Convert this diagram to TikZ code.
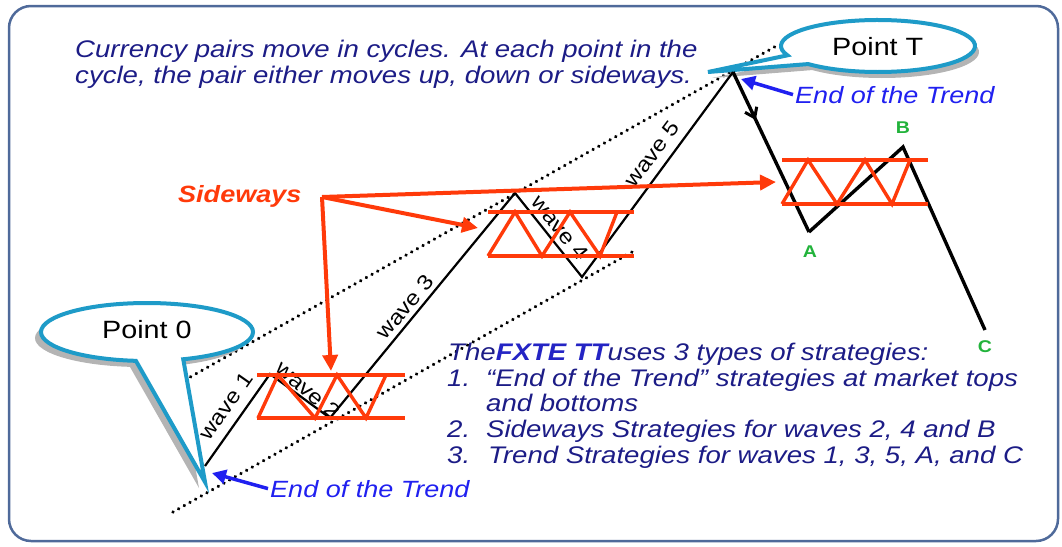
\documentclass[tikz,border=0pt]{standalone}
\usepackage{fontspec}
\setmainfont{Liberation Sans}[FakeStretch=1.15]
\usetikzlibrary{arrows.meta,decorations.markings}
\definecolor{navyc}{HTML}{1C1C86}
\definecolor{fxc}{HTML}{2424C4}
\definecolor{bluec}{HTML}{2020F0}
\definecolor{redc}{HTML}{FF3A0A}
\definecolor{greenc}{HTML}{22B33B}
\definecolor{callc}{HTML}{1E9BC8}
\definecolor{shadc}{HTML}{B4B4B4}
\definecolor{bordc}{HTML}{4F6A9A}
\begin{document}
\begin{tikzpicture}[x=1pt,y=-1pt,
  navytxt/.style={inner sep=0,text=navyc,font=\fontsize{24}{28}\selectfont\itshape},
  endtxt/.style={inner sep=0,text=bluec,font=\fontsize{23.5}{28}\selectfont\itshape},
  sidetxt/.style={inner sep=0,text=redc,font=\fontsize{23.5}{28}\selectfont\bfseries\itshape},
  pointtxt/.style={inner sep=0,text=black,font=\fontsize{25}{30}\selectfont},
  wavetxt/.style={inner sep=0,text=black,font=\fontsize{21}{24}\selectfont},
  abctxt/.style={inner sep=0,text=greenc,font=\fontsize{17}{20}\selectfont\bfseries},
  wavel/.style={draw=black,line width=2.2pt,line join=miter},
  trendl/.style={draw=black,line width=3.4pt,line join=miter},
  dotl/.style={draw=black,line width=3.6pt,dash pattern=on 0.01pt off 6.5pt,line cap=round},
  redl/.style={draw=redc,line width=3.4pt,line join=miter},
  redarr/.style={draw=redc,line width=4pt,-{Triangle[length=16pt,width=15pt]}},
  bluearr/.style={draw=bluec,line width=3.5pt,-{Triangle[length=14pt,width=14pt]}},
  callout/.style={draw=callc,line width=4pt,fill=white,line join=miter},
  midarrow/.style={postaction={decorate},decoration={markings,mark=at position #1 with {\arrow{Straight Barb[length=9pt,width=13pt,line width=3pt]}}}}
]
\useasboundingbox (0,0) rectangle (1062,546);
% frame
\draw[bordc,line width=2.5pt,rounded corners=22pt] (9,6) rectangle (1058,541);

% channel lines
\coordinate (u1) at (185,380);
\coordinate (u2) at (778,45);
\coordinate (l1) at (173,512);
\coordinate (l2) at (632,252);
\draw[dotl] (u1) -- (u2);
\draw[dotl] (l1) -- (l2);

% callouts
\fill[shadc,shift={(4,6)}] (878,46) ++(159:97 and 26) arc[start angle=159,end angle=496,x radius=97,y radius=26] -- (708,72) -- cycle;
\draw[callout] (878,46) ++(159:97 and 26) arc[start angle=159,end angle=496,x radius=97,y radius=26] -- (708,72) -- cycle;
\fill[shadc,shift={(-6,6)}] (147,332) ++(96:106 and 29) arc[start angle=96,end angle=430,x radius=106,y radius=29] -- (205,482) -- cycle;
\draw[callout] (147,332) ++(96:106 and 29) arc[start angle=96,end angle=430,x radius=106,y radius=29] -- (205,482) -- cycle;
\node[pointtxt,anchor=base west] (pT) at (832,55) {Point T};
\node[pointtxt,anchor=base west] (p0) at (102,338) {Point 0};

% price path
\coordinate (O) at (205,466);
\coordinate (W1) at (270,374);
\coordinate (W2) at (330,418);
\coordinate (W3) at (515,193);
\coordinate (W4) at (582,277);
\coordinate (T) at (733,72);
\coordinate (A) at (809,232);
\coordinate (B) at (903,147);
\coordinate (C) at (985,330);
\draw[wavel] (O) -- (W1) -- (W2) -- (W3) -- (W4) -- (T);
\draw[trendl,midarrow=0.3] (T) -- (A);
\draw[trendl] (A) -- (B) -- (C);

% wave labels
\node[wavetxt,rotate=55] (w1) at (226,406) {wave 1};
\node[wavetxt,rotate=-40] (w2) at (308,390) {wave 2};
\node[wavetxt,rotate=50] (w3) at (405,307) {wave 3};
\node[wavetxt,rotate=-51] (w4) at (560,228) {wave 4};
\node[wavetxt,rotate=53] (w5) at (652,154) {wave 5};

% sideways boxes
\draw[redl] (257,375) -- (405,375);
\draw[redl] (257,418) -- (405,418);
\draw[redl] (258,418) -- (278,375) -- (315,418) -- (337,375) -- (366,418) -- (386,375);
\draw[redl] (488,212) -- (634,212);
\draw[redl] (488,256) -- (634,256);
\draw[redl] (488,256) -- (515,212) -- (542,256) -- (570,212) -- (600,256) -- (617,212);
\draw[redl] (782,160) -- (928,160);
\draw[redl] (782,204) -- (928,204);
\draw[redl] (782,204) -- (808,160) -- (837,204) -- (865,160) -- (892,204) -- (910,160);

% sideways arrows
\node[sidetxt,anchor=base west] (sw) at (178,202) {Sideways};
\coordinate (S) at (322,197);
\coordinate (s1) at (331,371);
\coordinate (s2) at (478,228);
\coordinate (s3) at (776,182);
\draw[redarr] (S) -- (s1);
\draw[redarr] (S) -- (s2);
\draw[redarr] (S) -- (s3);

% labels A B C
\node[abctxt] (lA) at (810,252) {A};
\node[abctxt] (lB) at (903,128) {B};
\node[abctxt] (lC) at (985,347) {C};

% end of trend
\node[endtxt,anchor=base west] (e1) at (795,103) {End of the Trend};
\node[endtxt,anchor=base west] (e2) at (270,497) {End of the Trend};
\coordinate (e1tip) at (741,79);
\coordinate (e2tip) at (212,473);
\draw[bluearr] ([xshift=-2pt]e1.west) -- (e1tip);
\draw[bluearr] ([xshift=-2pt]e2.west) -- (e2tip);

% top text
\node[navytxt,anchor=base west] (c1) at (75,57) {Currency pairs move in cycles. At each point in the};
\node[navytxt,anchor=base west] (c2) at (75,83) {cycle, the pair either moves up, down or sideways.};

% bottom list
\node[navytxt,anchor=base west] (t0) at (448,360) {The\textbf{\textcolor{fxc}{FXTE TT}}uses 3 types of strategies:};
\node[navytxt,anchor=base west] (n1) at (447,386) {1.};
\node[navytxt,anchor=base west] (t1) at (486,386) {“End of the Trend” strategies at market tops};
\node[navytxt,anchor=base west] (t1b) at (486,411.5) {and bottoms};
\node[navytxt,anchor=base west] (n2) at (447,437) {2.};
\node[navytxt,anchor=base west] (t2) at (486,437) {Sideways Strategies for waves 2, 4 and B};
\node[navytxt,anchor=base west] (n3) at (447,463) {3.};
\node[navytxt,anchor=base west] (t3) at (488,463) {Trend Strategies for waves 1, 3, 5, A, and C};
\end{tikzpicture}
\end{document}
